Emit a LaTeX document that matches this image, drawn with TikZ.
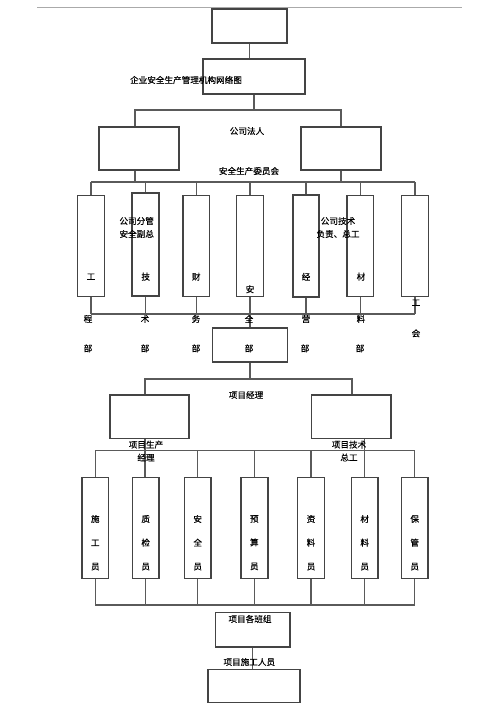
\documentclass[tikz,border=0pt]{standalone}
\usepackage{fontspec}
\newfontfamily\cjk[FakeBold=0.3]{Noto Sans CJK SC}
\definecolor{boxc}{HTML}{444444}
\definecolor{linec}{HTML}{5A5A5A}
\definecolor{rulec}{HTML}{AAAAAA}
\begin{document}
\begin{tikzpicture}[x=1pt,y=-1pt,
  bx/.style={draw=boxc,line width=1.2pt,inner sep=0pt,fill=none},
  thk/.style={line width=1.9pt},
  tall/.style={bx,minimum width=26.6pt,minimum height=101pt},
  ln/.style={draw=linec,line width=1.05pt},
  lbl/.style={inner sep=0pt,font=\cjk\fontsize{8.6}{13}\selectfont,text=black,align=center}]
\useasboundingbox (0,0) rectangle (500,708);
\fill[white] (0,0) rectangle (500,708);
% top rule
\coordinate (r1) at (37,7);
\coordinate (r2) at (462,7);
\draw[rulec,line width=0.8pt] (r1) -- (r2);
% top boxes
\node[bx,minimum width=75pt,minimum height=34pt] (top) at (249.5,26) {};
\node[bx,thk,minimum width=102pt,minimum height=35pt] (title) at (254,76.5) {};
\node[bx,minimum width=80pt,minimum height=43pt] (L) at (139,148.5) {};
\node[bx,minimum width=80pt,minimum height=43pt] (R) at (341,148.5) {};
% upper row
\node[tall] (u1) at (91,246.2) {};
\node[tall,thk,minimum height=102.7pt] (u2) at (145.7,244.6) {};
\node[tall] (u3) at (196.3,246.2) {};
\node[tall] (u4) at (250,246.2) {};
\node[tall,thk,minimum height=101.7pt] (u5) at (306,245.8) {};
\node[tall] (u6) at (360.3,246.2) {};
\node[tall] (u7) at (415,246.2) {};
\node[bx,thk,minimum width=75pt,minimum height=34pt] (bu) at (250,345) {};
% project boxes
\node[bx,minimum width=79pt,minimum height=43.3pt] (PL) at (149.5,416.7) {};
\node[bx,minimum width=79.5pt,minimum height=43.3pt] (PR) at (351.3,416.7) {};
% lower row
\node[tall] (w1) at (95.3,528) {};
\node[tall] (w2) at (145.7,528) {};
\node[tall] (w3) at (197.7,528) {};
\node[tall,thk] (w4) at (254.3,528) {};
\node[tall] (w5) at (311,528) {};
\node[tall] (w6) at (364.7,528) {};
\node[tall] (w7) at (414.7,528) {};
\node[bx,minimum width=74.7pt,minimum height=34.3pt] (team) at (252.7,629.8) {};
\node[bx,minimum width=92pt,minimum height=33.7pt] (bot) at (254,686) {};
% bus coordinates
\coordinate (b1) at (0,110);
\coordinate (bU) at (0,182);
\coordinate (bL) at (0,314);
\coordinate (bP) at (0,379);
\coordinate (bQ) at (0,450.7);
\coordinate (bW) at (0,605);
\coordinate (xA) at (135,0);
\coordinate (xB) at (341,0);
\coordinate (xC) at (145,0);
\coordinate (xD) at (352,0);
\coordinate (xE) at (364.3,0);
% connectors
\draw[ln] (top.south) -- (top.south |- title.north);
\draw[ln] (title.south) -- (title.south |- b1);
\draw[ln] (xA |- L.north) -- (xA |- b1) -- (xB |- b1) -- (xB |- R.north);
\draw[ln] (xA |- L.south) -- (xA |- bU);
\draw[ln] (xB |- R.south) -- (xB |- bU);
\draw[ln] (u1.north |- bU) -- (u7.north |- bU);
\foreach \n in {u1,u2,u3,u4,u5,u6,u7}{
  \draw[ln] (\n.north) -- (\n.north |- bU);
  \draw[ln] (\n.south) -- (\n.south |- bL);
}
\draw[ln] (u1.south |- bL) -- (u7.south |- bL);
\draw[ln] (u4.south) -- (bu.north);
\draw[ln] (bu.south) -- (bu.south |- bP);
\draw[ln] (xC |- PL.north) -- (xC |- bP) -- (xD |- bP) -- (xD |- PR.north);
\draw[ln] (w1.north |- bQ) -- (w7.north |- bQ);
\foreach \n in {w1,w3,w4,w5,w7}{
  \draw[ln] (\n.north) -- (\n.north |- bQ);
}
\draw[ln] (xC |- PL.south) -- (xC |- w2.north);
\draw[ln] (xE |- PR.south) -- (xE |- w6.north);
\foreach \n in {w1,w2,w3,w4,w5,w6,w7}{
  \draw[ln] (\n.south) -- (\n.south |- bW);
}
\draw[ln] (w1.south |- bW) -- (w7.south |- bW);
\draw[ln] (team.south) -- (team.south |- bot.north);
% labels
\node[lbl] (t0) at (186,80) {企业安全生产管理机构网络图};
\node[lbl] (t1) at (247,131) {公司法人};
\node[lbl] (t2) at (249,171) {安全生产委员会};
\node[lbl] (t3) at (136.7,227.5) {公司分管\\安全副总};
\node[lbl] (t4) at (338,227.5) {公司技术\\负责、总工};
% upper row chars
\node[lbl] (c11) at (91,276.7) {工};
\node[lbl] (c12) at (88,319) {程};
\node[lbl] (c13) at (88,348.3) {部};
\node[lbl] (c21) at (145.7,276.7) {技};
\node[lbl] (c22) at (145,319) {术};
\node[lbl] (c23) at (145,348.3) {部};
\node[lbl] (c31) at (196.3,276.7) {财};
\node[lbl] (c32) at (196,319) {务};
\node[lbl] (c33) at (196,348.3) {部};
\node[lbl] (c41) at (250,289.3) {安};
\node[lbl] (c42) at (249,319) {全};
\node[lbl] (c43) at (249,348.3) {部};
\node[lbl] (c51) at (306,276.7) {经};
\node[lbl] (c52) at (306,319) {营};
\node[lbl] (c53) at (305,348.3) {部};
\node[lbl] (c61) at (361,276.7) {材};
\node[lbl] (c62) at (361,319) {料};
\node[lbl] (c63) at (360,348.3) {部};
\node[lbl] (c71) at (416,302.7) {工};
\node[lbl] (c72) at (416,333.3) {会};
% project labels
\node[lbl] (t5) at (246,395) {项目经理};
\node[lbl] (t6) at (146,451) {项目生产\\经理};
\node[lbl] (t7) at (349,451) {项目技术\\总工};
% lower row labels
\node[lbl] (d1) at (95.3,542.7) {施\\[10.7pt]工\\[10.7pt]员};
\node[lbl] (d2) at (145.7,542.7) {质\\[10.7pt]检\\[10.7pt]员};
\node[lbl] (d3) at (197.7,542.7) {安\\[10.7pt]全\\[10.7pt]员};
\node[lbl] (d4) at (254.3,542.7) {预\\[10.7pt]算\\[10.7pt]员};
\node[lbl] (d5) at (311,542.7) {资\\[10.7pt]料\\[10.7pt]员};
\node[lbl] (d6) at (364.7,542.7) {材\\[10.7pt]料\\[10.7pt]员};
\node[lbl] (d7) at (414.7,542.7) {保\\[10.7pt]管\\[10.7pt]员};
\node[lbl] (t8) at (250,619) {项目各班组};
\node[lbl] (t9) at (249.3,662) {项目施工人员};
\end{tikzpicture}
\end{document}
